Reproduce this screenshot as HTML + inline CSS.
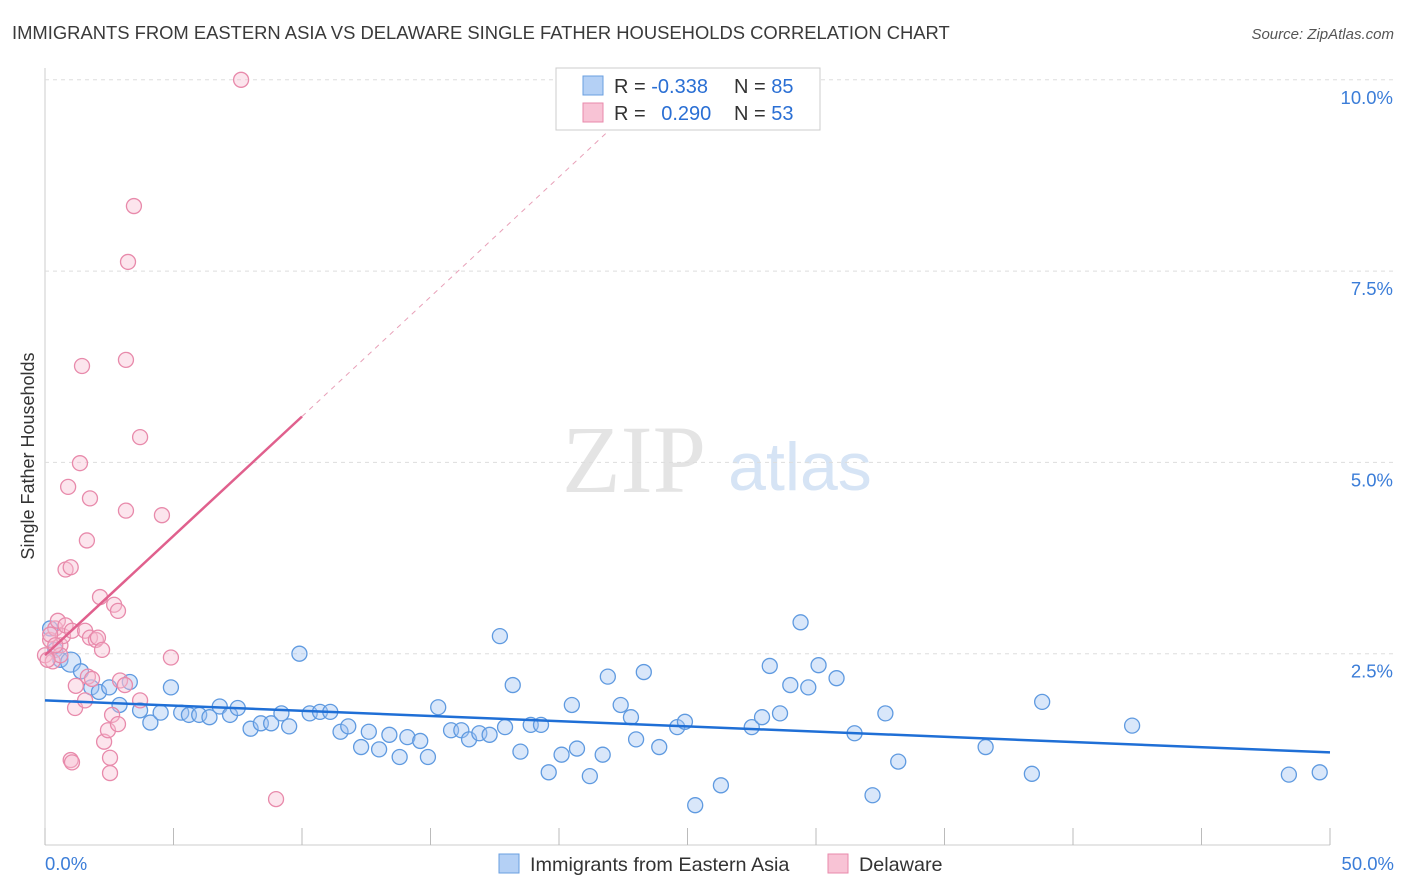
<!DOCTYPE html>
<html><head><meta charset="utf-8"><style>
body{margin:0;background:#fff;font-family:"Liberation Sans",sans-serif;}
svg{display:block}
</style></head><body>
<svg id="chart" width="1406" height="892">
<text x="12" y="39" font-size="18.4" fill="#3a3a3a">IMMIGRANTS FROM EASTERN ASIA VS DELAWARE SINGLE FATHER HOUSEHOLDS CORRELATION CHART</text>
<text x="1394" y="39" font-size="15" fill="#555" font-style="italic" text-anchor="end">Source: ZipAtlas.com</text>
<text x="634" y="492" font-size="96" fill="#e4e4e4" font-family="Liberation Serif,serif" text-anchor="middle">ZIP</text>
<text x="800" y="490" font-size="68" fill="#d6e4f5" text-anchor="middle">atlas</text>
<text transform="translate(34,456) rotate(-90)" font-size="18" fill="#333" text-anchor="middle">Single Father Households</text>
<g id="grid"></g><g id="pts"></g><g id="trend"></g>
<g>
<rect x="556" y="68" width="264" height="62" fill="#fff" stroke="#ccc"/>
<rect x="583" y="76" width="20" height="19" fill="#b4d0f5" stroke="#6a9fe0"/>
<rect x="583" y="103" width="20" height="19" fill="#f8c3d5" stroke="#e88aab"/>
<text x="614" y="93" font-size="20" fill="#333">R = <tspan fill="#2a6fd4">-0.338</tspan></text>
<text x="734" y="93" font-size="20" fill="#333">N = <tspan fill="#2a6fd4">85</tspan></text>
<text x="614" y="120" font-size="20" fill="#333">R = <tspan fill="#2a6fd4" dx="10">0.290</tspan></text>
<text x="734" y="120" font-size="20" fill="#333">N = <tspan fill="#2a6fd4">53</tspan></text>
</g>
<g>
<rect x="499" y="854" width="20" height="19" fill="#b4d0f5" stroke="#6a9fe0"/>
<text x="530" y="871" font-size="19.8" fill="#333">Immigrants from Eastern Asia</text>
<rect x="828" y="854" width="20" height="19" fill="#f8c3d5" stroke="#e88aab"/>
<text x="859" y="871" font-size="19.8" fill="#333">Delaware</text>
</g>
<text x="45" y="870" font-size="18.5" fill="#3b7dd8">0.0%</text>
<text x="1394" y="870" font-size="18.5" fill="#3b7dd8" text-anchor="end">50.0%</text>
</svg>
<script>
const yTicks=[2.5,5,7.5,10];
const yTickLabels=["2.5%","5.0%","7.5%","10.0%"];
const xTicks=[0,5,10,15,20,25,30,35,40,45,50];
const blueX=[0.2,0.4,0.6,1,1.4,1.8,2.1,2.5,2.9,3.3,3.7,4.1,4.5,4.9,5.3,5.6,6,6.4,6.8,7.2,7.5,8,8.4,8.8,9.2,9.5,9.9,10.3,10.7,11.1,11.5,11.8,12.3,12.6,13,13.4,13.8,14.1,14.6,14.9,15.3,15.8,16.2,16.5,16.9,17.3,17.7,17.9,18.2,18.5,18.9,19.3,19.6,20.1,20.5,20.7,21.2,21.7,21.9,22.4,22.8,23,23.3,23.9,24.6,24.9,25.3,26.3,27.5,27.9,28.2,28.6,29,29.4,29.7,30.1,30.8,31.5,32.2,32.7,33.2,36.6,38.4,38.8,42.3,48.4,49.6];
const blueY=[2.83,2.55,2.42,2.39,2.27,2.06,2,2.06,1.83,2.13,1.76,1.6,1.73,2.06,1.73,1.7,1.7,1.67,1.81,1.7,1.79,1.52,1.59,1.59,1.72,1.55,2.5,1.72,1.74,1.74,1.48,1.55,1.28,1.48,1.25,1.44,1.15,1.41,1.36,1.15,1.8,1.5,1.5,1.38,1.46,1.44,2.73,1.54,2.09,1.22,1.57,1.57,0.95,1.18,1.83,1.26,0.9,1.18,2.2,1.83,1.67,1.38,2.26,1.28,1.54,1.61,0.52,0.78,1.54,1.67,2.34,1.72,2.09,2.91,2.06,2.35,2.18,1.46,0.65,1.72,1.09,1.28,0.93,1.87,1.56,0.92,0.95];
const pinkX=[0,0.2,0.3,0.4,0.5,0.6,0.7,0.8,0.8,0.9,1,1,1.05,1.05,1.17,1.2,1.36,1.44,1.56,1.56,1.63,1.67,1.75,1.75,1.83,1.98,2.06,2.14,2.22,2.3,2.45,2.53,2.53,2.61,2.69,2.84,2.84,2.92,3.11,3.15,3.15,3.23,3.46,3.7,3.7,4.55,4.9,7.63,8.99,0.2,0.6,0.1,0.4];
const pinkY=[2.48,2.68,2.4,2.83,2.93,2.61,2.73,2.87,3.6,4.68,3.63,1.11,1.08,2.8,1.79,2.08,4.99,6.26,2.8,1.89,3.98,2.2,4.53,2.71,2.17,2.68,2.71,3.24,2.55,1.35,1.5,1.14,0.94,1.7,3.14,3.06,1.58,2.15,2.09,4.37,6.34,7.62,8.35,5.33,1.89,4.31,2.45,10,0.6,2.75,2.48,2.42,2.61];
const X=v=>45+v/50*1285, Y=v=>845-v*76.52;
const ns="http://www.w3.org/2000/svg";
function mk(p,t,a){const e=document.createElementNS(ns,t);for(const k in a)e.setAttribute(k,a[k]);p.appendChild(e);return e;}
const g=document.getElementById('grid');
const ax=mk(g,'line',{x1:45,y1:68,x2:45,y2:845,stroke:'#ccc'});


const bx=mk(g,'line',{x1:45,y1:845,x2:1330,y2:845,stroke:'#ccc'});


yTicks.forEach((v,i)=>{
 const l=mk(g,'line',{x1:45,x2:1394,y1:Y(v),y2:Y(v),stroke:'#ddd','stroke-dasharray':'4,4'});
 
 
 const t=mk(g,'text',{x:1393,y:Y(v)+24,'font-size':18.5,fill:'#3b7dd8','text-anchor':'end'});
 t.textContent=yTickLabels[i];
 
 
});
xTicks.forEach(v=>{
 const l=mk(g,'line',{x1:X(v),x2:X(v),y1:828,y2:845,stroke:'#bbb'});
 
 
});
const p=document.getElementById('pts');
blueX.forEach((v,i)=>{
 const c=mk(p,'circle',{cx:X(v),cy:Y(blueY[i]),r:i===3?10:7.5,fill:'rgba(160,196,242,0.4)',stroke:'#5f9ae0','stroke-width':1.3});
 
 
});
pinkX.forEach((v,i)=>{
 const c=mk(p,'circle',{cx:X(v),cy:Y(pinkY[i]),r:7.5,fill:'rgba(248,190,210,0.4)',stroke:'#e88aab','stroke-width':1.3});
 
 
});
const tr=document.getElementById('trend');
const bt=mk(tr,'line',{x1:X(0),y1:Y(1.89),x2:X(50),y2:Y(1.21),stroke:'#1f6fd6','stroke-width':2.5});


const pt=mk(tr,'line',{x1:X(0),y1:Y(2.48),x2:X(10),y2:Y(5.6),stroke:'#e0608d','stroke-width':2.5});


const pd=mk(tr,'line',{x1:X(10),y1:Y(5.6),x2:X(23.2),y2:Y(9.73),stroke:'#e8a0b8','stroke-width':1,'stroke-dasharray':'5,5'});


</script>
</body></html>
